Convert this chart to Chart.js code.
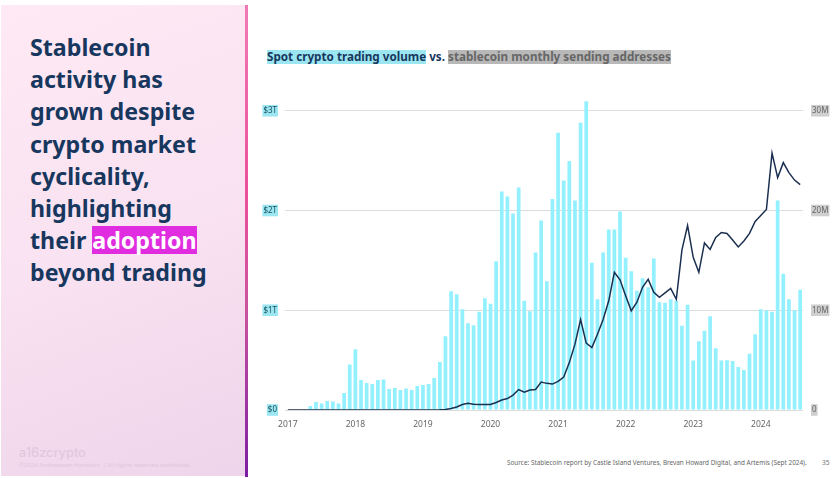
<!DOCTYPE html>
<html>
<head>
<meta charset="utf-8">
<script src="https://cdn.jsdelivr.net/npm/chart.js@4"></script>
<style>
  html, body { margin: 0; padding: 0; background: #fff; overflow: hidden; }
  body { width: 834px; height: 478px; position: relative; font-family: "Noto Sans", sans-serif; }
  .panel {
    position: absolute; left: 1px; top: 5px; width: 244px; height: 471px;
    background: linear-gradient(160deg, #fee9f4 0%, #f9e2f1 50%, #eed5eb 100%);
  }
  .edge {
    position: absolute; left: 245px; top: 5px; width: 3px; height: 472px;
    background: linear-gradient(180deg, #f07ab5 0%, #ec4f9b 40%, #c9539f 65%, #7a1fa2 100%);
  }
  .headline {
    position: absolute; left: 30px; top: 31px; margin: 0; width: 210px;
    font-size: 23.2px; line-height: 32.2px; font-weight: 700; color: #17375e; white-space: nowrap;
  }
  .headline mark { display: inline-block; line-height: 28px; background: #e02de0; color: #fff; }
  .brand { position: absolute; left: 19px; top: 445px; font: 500 12.8px Inter, sans-serif; color: #e3c8df; }
  .legal { position: absolute; left: 19px; top: 461px; font-size: 6px; color: #e0c6dc; white-space: nowrap; }
  .subtitle { position: absolute; left: 267px; top: 49px; font-size: 11.68px; font-weight: 700; color: #17375e; white-space: nowrap; line-height: 16px; }
  .subtitle span { display: inline-block; line-height: 14px; }
  .subtitle .a { background: #9be6f0; }
  .subtitle .b { background: #b8b8b8; color: #666; }
  .source { position: absolute; left: 507px; top: 458px; font-size: 6.4px; color: #666; white-space: nowrap; }
  .page { position: absolute; left: 822px; top: 458px; font-size: 6.6px; color: #777; }
  .chart-wrap { position: absolute; left: 250px; top: 77px; width: 584px; height: 358px; }
</style>
</head>
<body>
<div class="panel"></div>
<div class="edge"></div>
<h1 class="headline">Stablecoin<br>activity has<br>grown despite<br>crypto market<br>cyclicality,<br>highlighting<br>their <mark>adoption</mark><br>beyond trading</h1>
<div class="brand">a16zcrypto</div>
<div class="legal">©2024 Andreessen Horowitz. | All rights reserved worldwide.</div>
<div class="subtitle"><span class="a">Spot crypto trading volume</span> vs. <span class="b">stablecoin monthly sending addresses</span></div>
<div class="chart-wrap"><canvas id="chart"></canvas></div>
<div class="source">Source: Stablecoin report by Castle Island Ventures, Brevan Howard Digital, and Artemis (Sept 2024).</div>
<div class="page">35</div>

<script>
// months Jan 2017 - Aug 2024
const years = [2017, 2018, 2019, 2020, 2021, 2022, 2023, 2024];
const months = ["01", "02", "03", "04", "05", "06", "07", "08", "09", "10", "11", "12"];
const categories = years.flatMap(y => months.map(m => y + "-" + m)).slice(0, 92);

// spot volume, $T
const spotVolume = [
  0, 0, 0, 0, 0.04, 0.08, 0.065, 0.09, 0.085, 0.065, 0.17, 0.455,
  0.61, 0.30, 0.27, 0.26, 0.30, 0.305, 0.21, 0.22, 0.20, 0.215, 0.20, 0.24,
  0.25, 0.26, 0.32, 0.48, 0.74, 1.19, 1.16, 1.01, 0.87, 0.85, 0.985, 1.12,
  1.065, 1.49, 2.19, 2.14, 1.97, 2.23, 1.095, 0.99, 1.58, 1.90, 1.29, 2.115,
  2.78, 2.30, 2.495, 2.10, 2.88, 3.095, 1.477, 1.11, 1.58, 1.81, 1.81, 1.99,
  1.527, 1.39, 1.195, 1.32, 1.23, 1.52, 1.08, 1.075, 1.11, 1.095, 0.845, 1.055,
  0.495, 0.69, 0.795, 0.94, 0.62, 0.495, 0.50, 0.49, 0.43, 0.40, 0.565, 0.76,
  1.01, 1.0, 0.985, 2.10, 1.365, 1.11, 1.0, 1.205
];

// sending addresses, millions
const sendingAddresses = [
  0, 0, 0, 0, 0, 0, 0, 0, 0, 0, 0, 0,
  0, 0, 0, 0, 0, 0, 0, 0, 0, 0, 0, 0,
  0.01, 0.01, 0.01, 0.02, 0.05, 0.15, 0.3, 0.55, 0.67, 0.57, 0.55, 0.55,
  0.55, 0.75, 1.0, 1.15, 1.5, 2.05, 1.78, 2.0, 2.05, 2.8, 2.67, 2.6,
  2.87, 3.3, 4.75, 6.6, 9.07, 6.7, 6.26, 7.6, 9.07, 10.95, 13.8, 13.05,
  11.45, 9.95, 10.8, 12.3, 13.1, 11.8, 11.3, 11.75, 12.2, 11.1, 16.05, 18.5,
  15.3, 13.8, 16.75, 16.1, 17.3, 17.8, 17.7, 17.05, 16.35, 16.95, 17.7, 18.9,
  19.5, 20.1, 25.75, 23.3, 24.8, 23.8, 23.05, 22.6
];

const leftTicks = [0, 1, 2, 3];
const leftLabels = ["$0", "$1T", "$2T", "$3T"];
const rightTicks = [0, 10, 20, 30];
const rightLabels = ["0", "10M", "20M", "30M"];

const tickFont = { family: "Noto Sans", size: 8 };

new Chart(document.getElementById("chart"), {
  data: {
    labels: categories,
    datasets: [
      {
        type: "line",
        data: sendingAddresses,
        yAxisID: "yRight",
        borderColor: "#1b3050",
        borderWidth: 1.5,
        pointRadius: 0,
        tension: 0,
        order: 0
      },
      {
        type: "bar",
        data: spotVolume,
        yAxisID: "yLeft",
        backgroundColor: "#93f0ff",
        categoryPercentage: 1,
        barPercentage: 0.66,
        order: 1
      }
    ]
  },
  options: {
    responsive: true,
    maintainAspectRatio: false,
    animation: false,
    layout: { padding: 0 },
    plugins: { legend: { display: false }, tooltip: { enabled: false } },
    scales: {
      x: {
        grid: { display: false },
        border: { display: false },
        afterFit: axis => { axis.height = 25; },
        ticks: {
          autoSkip: false,
          maxRotation: 0,
          padding: 1,
          color: "#666",
          font: { family: "Noto Sans", size: 8.5 },
          callback: (v, i) => (i % 12 === 0 ? categories[i].slice(0, 4) : "")
        }
      },
      yLeft: {
        position: "left",
        min: 0,
        max: 3.2,
        afterFit: axis => { axis.width = 35; },
        afterBuildTicks: axis => { axis.ticks = leftTicks.map(value => ({ value })); },
        border: { display: false },
        grid: { color: "#dcdcdc", lineWidth: 1, drawTicks: false },
        ticks: {
          padding: 8,
          color: "#17505f",
          font: tickFont,
          showLabelBackdrop: true,
          backdropColor: "#9be6f0",
          backdropPadding: 1,
          callback: v => leftLabels[leftTicks.indexOf(v)]
        }
      },
      yRight: {
        position: "right",
        min: 0,
        max: 32,
        afterFit: axis => { axis.width = 31; },
        afterBuildTicks: axis => { axis.ticks = rightTicks.map(value => ({ value })); },
        border: { display: false },
        grid: { display: false, drawTicks: false },
        ticks: {
          padding: 9,
          color: "#666",
          font: tickFont,
          showLabelBackdrop: true,
          backdropColor: "#cfcfcf",
          backdropPadding: 1,
          callback: v => rightLabels[rightTicks.indexOf(v)]
        }
      }
    }
  }
});
</script>
</body>
</html>
